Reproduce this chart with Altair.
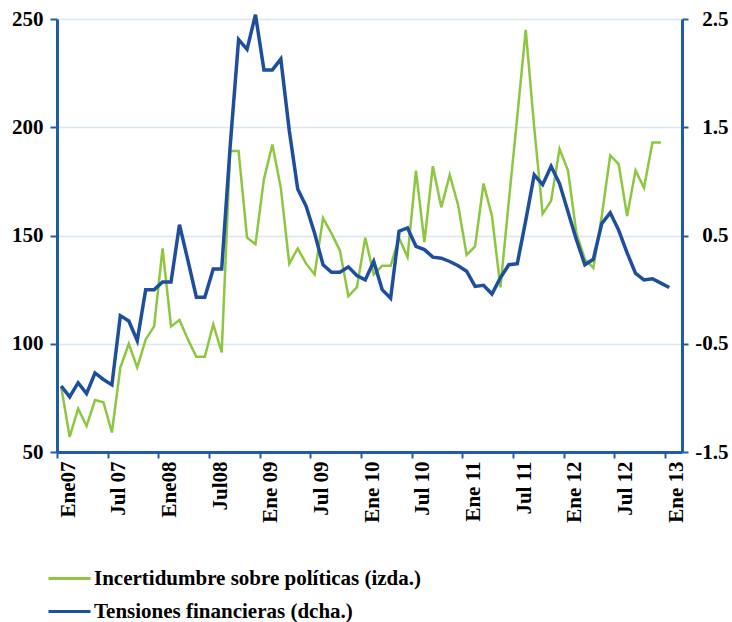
import altair as alt
import pandas as pd

# Índice de incertidumbre sobre políticas (eje izquierdo), mensual desde enero de 2007
incertidumbre = [
    80, 57, 70, 62, 74, 73, 59, 89, 100, 89, 102, 108,
    144, 108, 111, 102, 94, 94, 109, 96, 189, 189, 149, 146,
    176, 192, 172, 137, 144, 137, 132, 158, 151, 143, 122, 126,
    149, 132, 136, 136, 149, 140, 180, 147, 182, 163, 178, 164,
    141, 145, 174, 159, 126, 166, 205, 245, 200, 160,
    166, 190, 180, 151, 139, 135, 159, 187, 183, 159, 180, 172,
    193, 193,
]

# Indicador de tensiones financieras (eje derecho), mensual desde enero de 2007
tensiones = [
    -0.89, -0.99, -0.86, -0.96, -0.77, -0.83, -0.88, -0.24, -0.29, -0.47, 0.00, 0.00,
    0.07, 0.07, 0.60, 0.27, -0.07, -0.07, 0.19, 0.19, 1.32, 2.31, 2.22, 2.54,
    2.03, 2.03, 2.13, 1.47, 0.93, 0.77, 0.52, 0.23, 0.16, 0.16, 0.21, 0.13,
    0.09, 0.26, 0.00, -0.08, 0.54, 0.57, 0.40, 0.37, 0.30, 0.29, 0.26, 0.22,
    0.17, 0.03, 0.04, -0.04, 0.11, 0.23, 0.24, 0.64, 1.06, 0.97, 1.14, 0.98,
    0.72, 0.46, 0.23, 0.28, 0.61, 0.71, 0.55, 0.34, 0.15, 0.09, 0.10, 0.06,
    0.02,
]

etiquetas_mes = ["Ene07", "Jul 07", "Ene08", "Jul08", "Ene 09", "Jul 09", "Ene 10",
                 "Jul 10", "Ene 11", "Jul 11", "Ene 12", "Jul 12", "Ene 13"]

ticks_izda = [50, 100, 150, 200, 250]
ticks_dcha = [-1.5, -0.5, 0.5, 1.5, 2.5]

SERIE_I = "Incertidumbre sobre políticas (izda.)"
SERIE_T = "Tensiones financieras (dcha.)"

# Each monthly value sits in the middle of its month slot (slot 0 = Ene 2007)
df_i = pd.DataFrame({"mes": [m + 0.5 for m in range(len(incertidumbre))],
                     "valor": incertidumbre, "serie": SERIE_I})
df_t = pd.DataFrame({"mes": [m + 0.5 for m in range(len(tensiones))],
                     "valor": tensiones, "serie": SERIE_T})
data = pd.concat([df_i, df_t], ignore_index=True)

FONT = "Liberation Serif"
AXIS_BLUE = "#1f5ca8"
GRID = "#dbe7f3"
GREEN = "#8dc63f"
BLUE = "#1d4f9c"

label_expr = "[" + ",".join(f"'{s}'" for s in etiquetas_mes) + "][round(datum.value / 6)]"
# plain hyphen for negative values on the right axis
dcha_expr = "(datum.value < 0 ? '-' : '') + format(abs(datum.value), '.1f')"

common_label = dict(labelFont=FONT, labelFontSize=21, labelFontWeight="bold",
                    labelColor="black", labelFlush=False, labelOverlap=False)

x = alt.X(
    "mes:Q",
    scale=alt.Scale(domain=[0, 74], nice=False, zero=False),
    axis=alt.Axis(
        values=list(range(0, 73, 6)), labelExpr=label_expr,
        labelAngle=270, labelAlign="right", labelBaseline="middle",
        labelOffset=11, labelPadding=3,
        tickSize=6, tickWidth=2, tickColor=AXIS_BLUE,
        domainColor=AXIS_BLUE, domainWidth=3, grid=False, title=None,
        **common_label,
    ),
)

color = alt.Color(
    "serie:N",
    scale=alt.Scale(domain=[SERIE_I, SERIE_T], range=[GREEN, BLUE]),
    legend=alt.Legend(
        title=None, orient="none", legendX=-10, legendY=537, padding=0,
        symbolType="stroke", symbolSize=1764, symbolStrokeWidth=3,
        labelFont=FONT, labelFontSize=21, labelFontWeight="bold",
        labelColor="black", labelOffset=2, rowPadding=-6, labelLimit=0,
    ),
)

left = alt.Chart(data).transform_filter(
    alt.datum.serie == SERIE_I
).mark_line(strokeWidth=2.5).encode(
    x=x,
    y=alt.Y(
        "valor:Q",
        scale=alt.Scale(domain=[50, 250], nice=False, zero=False),
        axis=alt.Axis(
            orient="left", values=ticks_izda, title=None,
            grid=True, gridColor=GRID, gridWidth=1.5,
            tickSize=7, tickWidth=2, tickColor=AXIS_BLUE,
            domainColor=AXIS_BLUE, domainWidth=3,
            labelPadding=7, labelBaseline="middle",
            **common_label,
        ),
    ),
    color=color,
)

right = alt.Chart(data).transform_filter(
    alt.datum.serie == SERIE_T
).mark_line(strokeWidth=3.5).encode(
    x=x,
    y=alt.Y(
        "valor:Q",
        scale=alt.Scale(domain=[-1.5, 2.5], nice=False, zero=False),
        axis=alt.Axis(
            orient="right", values=ticks_dcha, title=None, labelExpr=dcha_expr,
            grid=False, tickSize=6, tickWidth=2, tickColor=AXIS_BLUE,
            domainColor=AXIS_BLUE, domainWidth=3,
            labelAlign="right", labelPadding=40, labelBaseline="middle",
            **common_label,
        ),
    ),
    color=color,
)

chart = alt.layer(left, right).resolve_scale(
    y="independent"
).properties(
    width=625, height=433,
    autosize=alt.AutoSizeParams(type="none"),
    padding={"left": 57, "top": 19, "right": 50, "bottom": 170},
    background="white",
).configure_view(stroke="transparent")

chart.save("out.html", embed_options={"renderer": "svg", "actions": False})
